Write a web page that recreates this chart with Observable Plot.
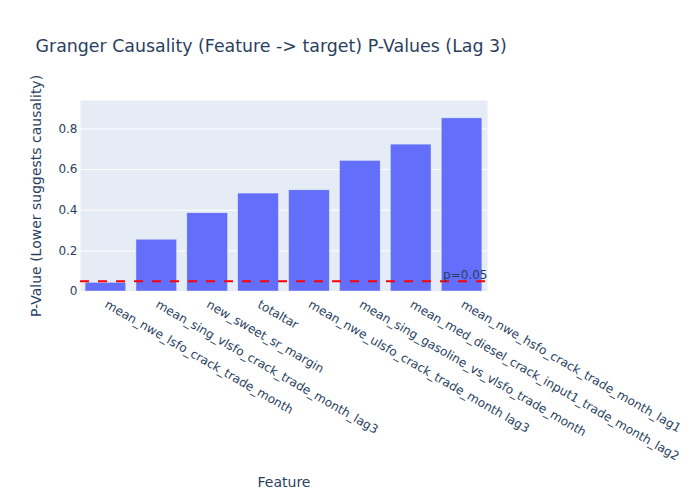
<!DOCTYPE html>
<html><head><meta charset="utf-8">
<script src="https://cdn.jsdelivr.net/npm/d3@7"></script>
<script src="https://cdn.jsdelivr.net/npm/@observablehq/plot@0.6"></script>
<style>body{margin:0;background:#fff}</style>
</head><body><div id="chart"></div>
<script>
const features = [
  "mean_nwe_lsfo_crack_trade_month",
  "mean_sing_vlsfo_crack_trade_month_lag3",
  "new_sweet_sr_margin",
  "totaltar",
  "mean_nwe_ulsfo_crack_trade_month lag3",
  "mean_sing_gasoline_vs_vlsfo_trade_month",
  "mean_med_diesel_crack_input1_trade_month_lag2",
  "mean_nwe_hsfo_crack_trade_month_lag1"
];
const pValues = [0.043, 0.255, 0.385, 0.482, 0.498, 0.643, 0.723, 0.852];
const yTicks = [0, 0.2, 0.4, 0.6, 0.8];
const yTickLabels = ["0", "0.2", "0.4", "0.6", "0.8"];
const threshold = [0.05];
const thresholdLabel = ["p=0.05"];
const titleText = ["Granger Causality (Feature -> target) P-Values (Lag 3)"];
const xTitle = ["Feature"];
const yTitle = ["P-Value (Lower suggests causality)"];

const data = features.map((f, i) => ({feature: f, p: pValues[i]}));

const chart = Plot.plot({
  width: 700, height: 500,
  marginLeft: 80, marginRight: 213, marginTop: 100, marginBottom: 209,
  style: {fontFamily: "'DejaVu Sans', Verdana, sans-serif", fontSize: "12px", color: "#2a3f5f", background: "#fff"},
  x: {domain: features, paddingInner: 0.2, paddingOuter: 0.1, round: false, label: null},
  y: {domain: [0, 0.94], label: null},
  marks: [
    Plot.frame({fill: "#e5ecf6", stroke: null}),
    Plot.gridY(yTicks, {stroke: "#fff", strokeOpacity: 1, strokeWidth: 1}),
    Plot.barY(data, {x: "feature", y: "p", fill: "#636efa", stroke: "#e5ecf6", strokeWidth: 0.5}),
    Plot.ruleY(threshold, {stroke: "red", strokeWidth: 2, strokeDasharray: "9,9"}),
    Plot.text(thresholdLabel, {y: threshold, frameAnchor: "right", textAnchor: "end", lineAnchor: "bottom", dy: -2, fontSize: 12}),
    Plot.axisY(yTicks, {tickFormat: d => yTickLabels[yTicks.indexOf(d)], tickSize: 0, tickPadding: 3, fontSize: 12}),
    Plot.axisX({tickRotate: 30, tickSize: 0, tickPadding: 12, textAnchor: "start", lineAnchor: "middle", fontSize: 12.1}),
    Plot.text(yTitle, {frameAnchor: "left", rotate: -90, dx: -44, textAnchor: "middle", lineAnchor: "middle", fontSize: 14}),
    Plot.text(xTitle, {frameAnchor: "bottom", dy: 191, textAnchor: "middle", lineAnchor: "middle", fontSize: 14}),
    Plot.text(titleText, {frameAnchor: "top-left", dx: -45, dy: -54, textAnchor: "start", lineAnchor: "middle", fontSize: 17.4})
  ]
});
document.getElementById("chart").appendChild(chart);
</script>
</body></html>
